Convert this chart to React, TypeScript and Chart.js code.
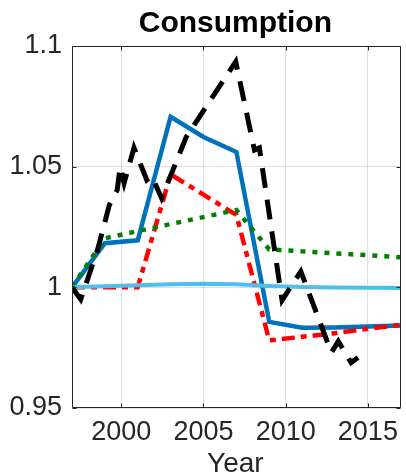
import { useEffect, useRef } from 'react';
import { Chart, registerables } from 'chart.js';

Chart.register(...registerables);

// ---- data ----
const titleText = 'Consumption';
const xLabelText = 'Year';

const xTicks = [2000, 2005, 2010, 2015];
const xTickLabels = ['2000', '2005', '2010', '2015'];
const yTicks = [0.95, 1, 1.05, 1.1];
const yTickLabels = ['0.95', '1', '1.05', '1.1'];

// observed data (black dashed)
const dataYears = [
  1997.0, 1997.53, 1998.55, 1999.27, 1999.75, 1999.93, 2000.17, 2000.77, 2001.55, 2001.85,
  2002.45, 2003.95, 2006.96, 2008.1, 2008.4, 2009.78, 2010.92, 2012.78, 2013.2, 2013.98, 2014.4,
];
const dataValues = [
  1.0, 0.995, 1.0154, 1.0341, 1.0403, 1.0499, 1.0432, 1.0578, 1.0445, 1.0461,
  1.037, 1.0623, 1.0935, 1.0569, 1.0578, 0.9946, 1.0066, 0.973, 0.9776, 0.9688, 0.9709,
];

// model series (every two years)
const modelYears = [1997, 1999, 2001, 2003, 2005, 2007, 2009, 2011, 2013, 2015, 2017];
const blueValues = [1.0, 1.0183, 1.0195, 1.0707, 1.0623, 1.0561, 0.9857, 0.9833, 0.9834, 0.9838, 0.9842];
const redValues = [1.0, 1.0, 1.0, 1.0468, 1.0384, 1.03, 0.978, 0.9795, 0.981, 0.9828, 0.9845];
const greenValues = [1.0, 1.0203, 1.0233, 1.0262, 1.0291, 1.032, 1.0157, 1.0149, 1.0141, 1.0133, 1.0125];
const lightBlueValues = [1.0, 1.0005, 1.0009, 1.0013, 1.0015, 1.0013, 1.0006, 1.0001, 0.9999, 0.9998, 0.9997];

const FONT = "'Liberation Sans', Arial, Helvetica, sans-serif";
const AXIS_COLOR = '#262626';

const pairs = (xs: number[], ys: number[]) => xs.map((x, i) => ({ x, y: ys[i] }));

const decorPlugin = {
  id: 'matlabDecor',
  afterDraw(chart: any) {
    const { ctx, chartArea: a, scales } = chart;
    ctx.save();
    ctx.strokeStyle = AXIS_COLOR;
    ctx.lineWidth = 1;
    const L = Math.round(a.left) + 0.5;
    const R = Math.round(a.right) - 0.5;
    const T = Math.round(a.top) + 0.5;
    const B = Math.round(a.bottom) - 0.5;
    ctx.beginPath();
    ctx.rect(L, T, R - L, B - T);
    ctx.stroke();
    const tl = 4;
    ctx.beginPath();
    xTicks.forEach((v) => {
      const px = Math.round(scales.x.getPixelForValue(v)) + 0.5;
      ctx.moveTo(px, B);
      ctx.lineTo(px, B - tl);
      ctx.moveTo(px, T);
      ctx.lineTo(px, T + tl);
    });
    yTicks.forEach((v) => {
      const py = Math.round(scales.y.getPixelForValue(v)) + 0.5;
      ctx.moveTo(L, py);
      ctx.lineTo(L + tl, py);
      ctx.moveTo(R, py);
      ctx.lineTo(R - tl, py);
    });
    ctx.stroke();
    const cx = (a.left + a.right) / 2;
    ctx.fillStyle = '#000';
    ctx.textAlign = 'center';
    ctx.textBaseline = 'alphabetic';
    ctx.font = `bold 30px ${FONT}`;
    ctx.fillText(titleText, cx - 1, 32);
    ctx.fillStyle = AXIS_COLOR;
    ctx.font = `28px ${FONT}`;
    ctx.fillText(xLabelText, cx - 1, 472);
    ctx.restore();
  },
};

export default function App() {
  const ref = useRef<HTMLCanvasElement>(null);
  useEffect(() => {
    const canvas = ref.current!;
    const chart = new Chart(canvas, {
      type: 'line',
      data: {
        datasets: [
          {
            label: 'Data',
            data: pairs(dataYears, dataValues),
            borderColor: '#000000',
            borderWidth: 5,
            borderDash: [20, 12],
            borderCapStyle: 'butt',
            borderJoinStyle: 'miter',
            pointRadius: 0,
            tension: 0,
          },
          {
            label: 'Light blue',
            data: pairs(modelYears, lightBlueValues),
            borderColor: '#4DBEEE',
            borderWidth: 4,
            borderCapStyle: 'round',
            pointRadius: 0,
            tension: 0,
          },
          {
            label: 'Green',
            data: pairs(modelYears, greenValues),
            borderColor: '#008000',
            borderWidth: 4.5,
            borderDash: [5, 7],
            borderCapStyle: 'butt',
            pointRadius: 0,
            tension: 0,
          },
          {
            label: 'Red',
            data: pairs(modelYears, redValues),
            borderColor: '#FF0000',
            borderWidth: 4.5,
            borderDash: [13, 6, 6, 6],
            borderCapStyle: 'butt',
            borderJoinStyle: 'miter',
            pointRadius: 0,
            tension: 0,
          },
          {
            label: 'Blue',
            data: pairs(modelYears, blueValues),
            borderColor: '#0072BD',
            borderWidth: 4.5,
            borderJoinStyle: 'miter',
            pointRadius: 0,
            tension: 0,
          },
        ],
      },
      options: {
        responsive: false,
        animation: false,
        devicePixelRatio: 1,
        layout: { padding: { top: 46, right: 1, left: 0, bottom: 0 } },
        plugins: {
          legend: { display: false },
          tooltip: { enabled: false },
          title: { display: false },
        },
        scales: {
          x: {
            type: 'linear',
            min: 1997,
            max: 2017,
            afterBuildTicks: (s: any) => {
              s.ticks = xTicks.map((v) => ({ value: v }));
            },
            afterFit: (s: any) => {
              s.height = 66;
            },
            ticks: {
              autoSkip: false,
              maxRotation: 0,
              padding: 8,
              color: AXIS_COLOR,
              font: { family: FONT, size: 27 },
              callback: (_v: any, i: number) => xTickLabels[i],
            },
            grid: { color: 'rgba(38,38,38,0.15)', drawTicks: false, lineWidth: 1 },
            border: { display: false },
          },
          y: {
            type: 'linear',
            min: 0.95,
            max: 1.1,
            afterBuildTicks: (s: any) => {
              s.ticks = yTicks.map((v) => ({ value: v }));
            },
            afterFit: (s: any) => {
              s.width = 72;
            },
            ticks: {
              autoSkip: false,
              padding: 10,
              color: AXIS_COLOR,
              font: { family: FONT, size: 27 },
              callback: (_v: any, i: number) => yTickLabels[i],
            },
            grid: { color: 'rgba(38,38,38,0.15)', drawTicks: false, lineWidth: 1 },
            border: { display: false },
          },
        },
      },
      plugins: [decorPlugin],
    } as any);
    return () => chart.destroy();
  }, []);
  return (
    <div style={{ position: 'fixed', left: 0, top: 0, width: 406, height: 474, background: '#fff' }}>
      <canvas ref={ref} width={406} height={474} style={{ width: 406, height: 474, display: 'block' }} />
    </div>
  );
}
